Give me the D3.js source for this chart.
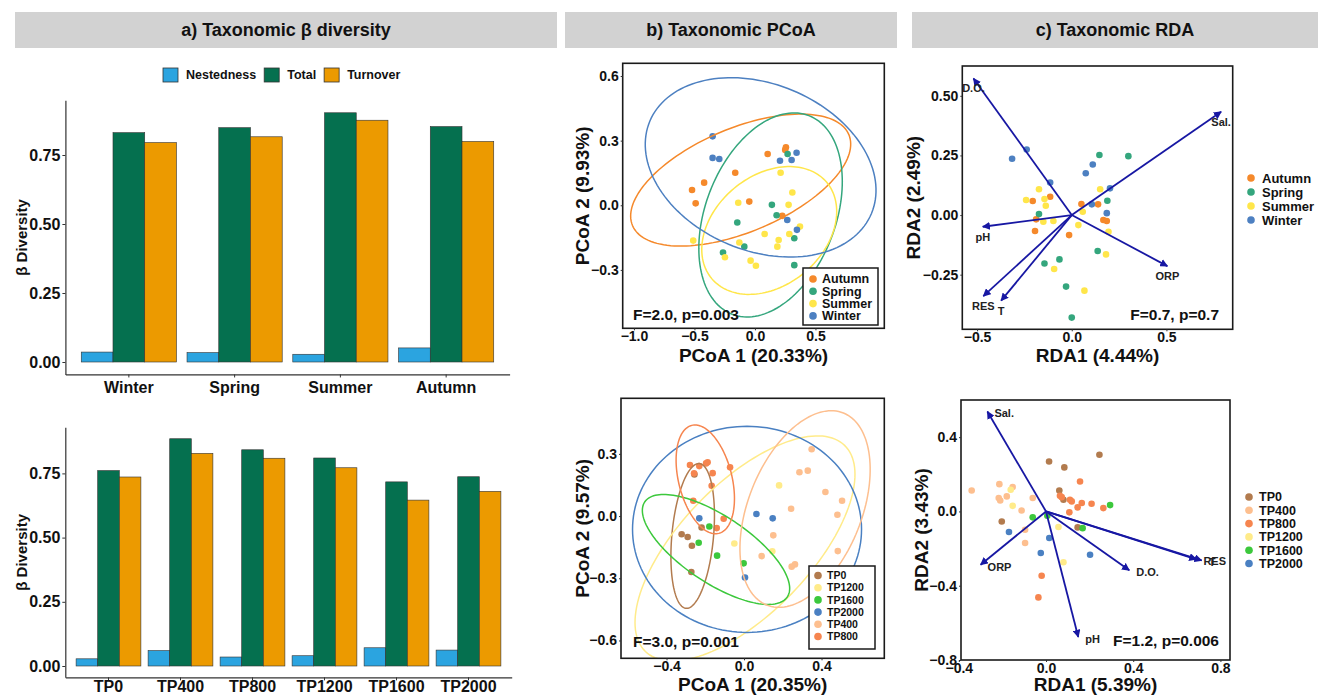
<!DOCTYPE html>
<html>
<head>
<meta charset="utf-8">
<script src="https://cdn.jsdelivr.net/npm/d3@7"></script>
<style>
  body { margin: 0; background: #fff; }
  svg { display: block; font-family: "Liberation Sans", Arial, sans-serif; }
</style>
</head>
<body>
<svg id="fig" width="1321" height="696"></svg>
<script>
// ---------- a) beta diversity bars ----------
const components = ["Nestedness", "Total", "Turnover"];
const componentColors = ["#2BA4E0", "#05704F", "#EC9A00"];

const seasons = ["Winter", "Spring", "Summer", "Autumn"];
const seasonNestedness = [0.036, 0.034, 0.028, 0.051];
const seasonTotal = [0.831, 0.849, 0.903, 0.853];
const seasonTurnover = [0.795, 0.816, 0.876, 0.799];

const sites = ["TP0", "TP400", "TP800", "TP1200", "TP1600", "TP2000"];
const siteNestedness = [0.028, 0.060, 0.035, 0.040, 0.071, 0.062];
const siteTotal = [0.761, 0.885, 0.842, 0.810, 0.717, 0.737];
const siteTurnover = [0.736, 0.828, 0.809, 0.772, 0.646, 0.680];

const betaTicks = [0, 0.25, 0.5, 0.75];

// ---------- groups and colours ----------
const seasonGroups = ["Autumn", "Spring", "Summer", "Winter"];
const seasonColors = { Autumn: "#F5892B", Spring: "#34A67D", Summer: "#FFE64A", Winter: "#4D80C1" };
const sitePcoaOrder = ["TP0", "TP1200", "TP1600", "TP2000", "TP400", "TP800"];
const siteRdaOrder = ["TP0", "TP400", "TP800", "TP1200", "TP1600", "TP2000"];
const siteColors = { TP0: "#B27B4E", TP400: "#FDBF8F", TP800: "#F6854F", TP1200: "#FFEB8A", TP1600: "#3CC83C", TP2000: "#4A80C2" };

// ---------- b) PCoA scores [PCoA1, PCoA2] ----------
const pcoaSeason = {
  Autumn: [[-0.52, 0.071], [-0.49, 0.009], [-0.42, 0.105], [-0.163, 0.151], [-0.047, 0.017], [0.105, 0.238], [0.25, 0.257], [0.256, 0.269], [0.226, -0.049]],
  Spring: [[0.27, 0.238], [-0.146, -0.08], [0.14, 0.002], [0.179, -0.046], [-0.264, -0.219], [-0.088, -0.192], [0.325, -0.153], [0.325, -0.278]],
  Summer: [[0.212, 0.151], [0.309, 0.059], [0.278, 0.002], [-0.138, 0.012], [-0.51, -0.164], [-0.129, -0.173], [0.08, -0.133], [0.196, -0.161], [0.185, -0.192], [0.284, -0.133], [0.372, -0.099], [-0.248, -0.241], [-0.036, -0.257], [0.008, -0.281]],
  Winter: [[-0.35, 0.32], [-0.35, 0.22], [-0.295, 0.215], [0.207, 0.207], [0.303, 0.21], [0.344, 0.244], [0.267, -0.068], [0.347, -0.114]]
};
// ellipse: centre x, centre y, first semi-axis (x, y), second semi-axis (x, y)
const pcoaSeasonEllipses = {
  Autumn: [-0.118, 0.117, 0.894, 0.211, 0.166, -0.222],
  Spring: [0.129, -0.045, 0.317, 0.461, 0.501, -0.1085],
  Summer: [0.118, -0.117, 0.475, 0.2235, 0.292, -0.195],
  Winter: [0.047, 0.176, 0.916, -0.214, -0.265, -0.357]
};

const pcoaSite = {
  TP0: [[-0.256, 0.201], [-0.322, -0.088], [-0.291, -0.101], [-0.269, -0.143], [-0.272, -0.27], [-0.219, -0.055]],
  TP1200: [[0.181, 0.148], [-0.05, -0.132], [0.146, -0.17]],
  TP1600: [[-0.179, -0.05], [-0.234, -0.129], [-0.139, -0.191], [-0.002, -0.228]],
  TP2000: [[-0.231, -0.011], [0.064, 0.01], [0.148, -0.011], [0.005, -0.296]],
  TP400: [[0.349, 0.322], [0.286, 0.211], [0.329, 0.219], [0.42, 0.116], [0.506, 0.074], [0.243, 0.035], [0.482, 0.006], [0.151, -0.093], [0.091, -0.193], [0.484, -0.169], [0.263, -0.233], [0.246, -0.244]],
  TP800: [[-0.279, 0.246], [-0.258, 0.206], [-0.231, 0.241], [-0.196, 0.254], [-0.188, 0.259], [-0.162, 0.207], [-0.167, 0.146], [-0.072, 0.235], [-0.262, 0.074], [-0.105, -0.013], [-0.141, -0.058]]
};
const pcoaSiteEllipses = {
  TP0: [-0.265, -0.096, 0.0344, 0.349, 0.107, -0.0093],
  TP1200: [0.005, -0.156, 0.514, 0.497, 0.241, -0.218],
  TP1600: [-0.1446, -0.161, 0.368, -0.229, -0.0955, -0.1338],
  TP2000: [0.0155, -0.064, 0.591, 0, 0, 0.497],
  TP400: [0.315, 0.034, 0.198, 0.463, 0.2716, -0.1015],
  TP800: [-0.2, 0.177, 0.0695, -0.2605, -0.1336, -0.0312]
};

// ---------- c) RDA site scores and biplot arrows ----------
const rdaSeason = {
  Autumn: [[-0.206, 0.059], [-0.114, 0.077], [-0.188, -0.018], [-0.194, -0.067], [0.051, 0.046], [0.139, 0.045], [-0.014, -0.084], [0.167, -0.021], [0.185, -0.025]],
  Spring: [[0.146, 0.252], [0.299, 0.247], [0.188, 0.06], [-0.173, 0.004], [0.137, -0.151], [-0.065, -0.186], [-0.144, -0.203], [-0.03, -0.3], [0, -0.43]],
  Summer: [[-0.173, 0.108], [-0.241, 0.063], [-0.144, 0.067], [-0.137, 0.039], [-0.15, -0.028], [-0.097, -0.025], [0.15, 0.108], [0.058, 0.014], [0.035, -0.042], [0.194, -0.07], [0.181, -0.165], [-0.093, -0.226], [0.067, -0.317]],
  Winter: [[-0.315, 0.236], [-0.238, 0.275], [-0.114, 0.136], [0.074, 0.175], [0.111, 0.212], [0.202, 0.112], [0.106, 0.045], [0.185, 0.008]]
};
const rdaSeasonArrows = [["D.O.", -0.519, 0.573], ["Sal.", 0.789, 0.433], ["pH", -0.47, -0.049], ["ORP", 0.505, -0.214], ["RES", -0.467, -0.34], ["T", -0.373, -0.359]];

const rdaSite = {
  TP0: [[0.245, 0.305], [0.014, 0.269], [0.084, 0.237], [0.061, 0.113], [0.08, 0.063], [-0.203, -0.054], [0.145, -0.086]],
  TP400: [[-0.341, 0.113], [-0.214, 0.147], [-0.217, 0.072], [-0.21, 0.059], [-0.18, 0.081], [-0.153, 0.131], [-0.112, 0.005], [-0.061, 0.072], [-0.096, -0.099], [-0.096, -0.17]],
  TP800: [[0.156, 0.161], [0.072, 0.077], [0.11, 0.063], [0.118, 0.054], [0.164, 0.045], [0.209, 0.041], [0.263, 0.018], [0.145, 0.022], [0.107, -0.005], [-0.02, -0.346], [-0.035, -0.463], [0.064, 0.084]],
  TP1200: [[-0.162, 0.117], [-0.153, 0.03], [0.057, -0.084], [0.08, -0.274]],
  TP1600: [[0.294, 0.034], [-0.061, -0.032], [0.006, -0.023], [0.168, -0.09]],
  TP2000: [[-0.17, -0.111], [0.015, -0.143], [-0.024, -0.224], [0.202, -0.233]]
};
const rdaSiteArrows = [["Sal.", -0.269, 0.538], ["ORP", -0.3, -0.287], ["pH", 0.148, -0.676], ["D.O.", 0.382, -0.317], ["RES", 0.69, -0.258], ["T", 0.714, -0.264]];

// ---------- drawing ----------
const FONT = '"Liberation Sans", Arial, sans-serif';
const INK = "#111";
const ARROW = "#1717A3";
const svg = d3.select("#fig");
const defs = svg.append("defs");
defs.append("marker")
    .attr("id", "arrowhead")
    .attr("viewBox", "0 0 10 10")
    .attr("refX", 9).attr("refY", 5)
    .attr("markerUnits", "userSpaceOnUse")
    .attr("markerWidth", 8).attr("markerHeight", 8)
    .attr("orient", "auto")
    .append("path").attr("d", "M0,0L10,5L0,10z").attr("fill", ARROW);

let clipCount = 0;

function header(x0, x1, label) {
    svg.append("rect").attr("x", x0).attr("y", 12).attr("width", x1 - x0).attr("height", 36).attr("fill", "#D2D2D2");
    svg.append("text").attr("x", (x0 + x1) / 2).attr("y", 30).attr("dy", "0.35em")
        .attr("text-anchor", "middle").attr("font-size", 18).attr("font-weight", "bold").attr("fill", INK)
        .text(label);
}

function styleAxis(g, size) {
    g.attr("font-family", FONT);
    g.selectAll("text").attr("font-size", size).attr("font-weight", "bold").attr("fill", INK);
    g.selectAll("line").attr("stroke", "#333");
    g.select(".domain").attr("stroke", "#333").attr("stroke-width", 1.2);
}

function barPanel(cats, series, x0, x1, zeroY, pxPerUnit, labelPad) {
    const yMax = d3.max(series.flat());
    const domain = [-0.05 * yMax, 1.05 * yMax];
    const y = d3.scaleLinear().domain(domain)
        .range([zeroY - domain[0] * pxPerUnit, zeroY - domain[1] * pxPerUnit]);
    const x = d3.scaleBand().domain(cats).range([x0, x1]).paddingInner(0.1).paddingOuter(0.15);
    const xs = d3.scaleBand().domain(components).range([0, x.bandwidth()]);
    const g = svg.append("g");

    components.forEach((comp, ci) => {
        g.selectAll(null).data(cats).join("rect")
            .attr("x", d => x(d) + xs(comp))
            .attr("y", (d, i) => y(series[ci][i]))
            .attr("width", xs.bandwidth())
            .attr("height", (d, i) => y(0) - y(series[ci][i]))
            .attr("fill", componentColors[ci])
            .attr("stroke", "#333").attr("stroke-width", 0.6);
    });

    const [yBot, yTop] = y.range();
    g.append("g").attr("transform", `translate(${x0},0)`)
        .call(d3.axisLeft(y).tickValues(betaTicks).tickFormat(d3.format(".2f")).tickSize(3).tickSizeOuter(0).tickPadding(2))
        .call(a => styleAxis(a, 16));
    g.append("g").attr("transform", `translate(0,${yBot})`)
        .call(d3.axisBottom(x).tickSize(3).tickSizeOuter(0).tickPadding(labelPad))
        .call(a => styleAxis(a, 16));

    g.append("text")
        .attr("transform", `translate(22,${(yBot + yTop) / 2}) rotate(-90)`)
        .attr("dy", "0.35em").attr("text-anchor", "middle")
        .attr("font-size", 15).attr("font-weight", "bold").attr("fill", INK)
        .text("β Diversity");
}

function ellipsePath(e, x, y) {
    const [cx, cy, ax, ay, bx, by] = e;
    const pts = d3.range(0, 2 * Math.PI, Math.PI / 72).map(t => [
        x(cx + ax * Math.cos(t) + bx * Math.sin(t)),
        y(cy + ay * Math.cos(t) + by * Math.sin(t))
    ]);
    return d3.line().curve(d3.curveLinearClosed)(pts);
}

function scatterPanel(c) {
    const [l, r, t, b] = c.box;
    const x = d3.scaleLinear().domain(c.xDomain).range([l, r]);
    const y = d3.scaleLinear().domain(c.yDomain).range([b, t]);
    const g = svg.append("g");
    const clipId = "clip" + (clipCount++);
    defs.append("clipPath").attr("id", clipId)
        .append("rect").attr("x", l).attr("y", t).attr("width", r - l).attr("height", b - t);
    const plot = g.append("g").attr("clip-path", `url(#${clipId})`);

    c.groups.forEach(gr => {
        plot.selectAll(null).data(c.points[gr]).join("circle")
            .attr("cx", d => x(d[0])).attr("cy", d => y(d[1]))
            .attr("r", 3.3).attr("fill", c.colors[gr]);
    });

    if (c.ellipses) {
        c.groups.forEach(gr => {
            plot.append("path").attr("d", ellipsePath(c.ellipses[gr], x, y))
                .attr("fill", "none").attr("stroke", c.colors[gr]).attr("stroke-width", 1.5);
        });
    }

    if (c.arrows) {
        g.selectAll(null).data(c.arrows).join("line")
            .attr("x1", x(0)).attr("y1", y(0))
            .attr("x2", d => x(d[1])).attr("y2", d => y(d[2]))
            .attr("stroke", ARROW).attr("stroke-width", 1.8)
            .attr("marker-end", "url(#arrowhead)");
        const lab = g.selectAll(null).data(c.arrows).join("text")
            .attr("font-size", 11).attr("font-weight", "bold").attr("fill", "#222")
            .attr("dy", "0.35em").text(d => d[0]);
        if (c.arrowLabels === "below") {
            lab.attr("x", d => x(d[1])).attr("y", d => y(d[2]) + 10).attr("text-anchor", "middle");
        } else {
            lab.attr("x", d => x(d[1]) + 7).attr("y", d => y(d[2]) + 2).attr("text-anchor", "start");
        }
    }

    g.append("rect").attr("x", l).attr("y", t).attr("width", r - l).attr("height", b - t)
        .attr("fill", "none").attr("stroke", "#1a1a1a").attr("stroke-width", 1.6);

    g.append("g").attr("transform", `translate(${l},0)`)
        .call(d3.axisLeft(y).tickValues(c.yTicks).tickFormat(d3.format(c.yFmt)).tickSize(2).tickSizeOuter(0).tickPadding(2))
        .call(a => { styleAxis(a, 14); a.select(".domain").remove(); });
    g.append("g").attr("transform", `translate(0,${b})`)
        .call(d3.axisBottom(x).tickValues(c.xTicks).tickFormat(d3.format(c.xFmt)).tickSize(2).tickSizeOuter(0).tickPadding(1))
        .call(a => { styleAxis(a, 14); a.select(".domain").remove(); });

    g.append("text").attr("x", (l + r) / 2).attr("y", c.xTitleY).attr("dy", "0.35em")
        .attr("text-anchor", "middle").attr("font-size", 19).attr("font-weight", "bold").attr("fill", INK)
        .text(c.xTitle);
    g.append("text").attr("transform", `translate(${c.yTitleX},${(t + b) / 2}) rotate(-90)`)
        .attr("dy", "0.35em").attr("text-anchor", "middle")
        .attr("font-size", 19).attr("font-weight", "bold").attr("fill", INK)
        .text(c.yTitle);

    g.append("text").attr("x", c.statPos[0]).attr("y", c.statPos[1]).attr("dy", "0.35em")
        .attr("text-anchor", c.statAnchor).attr("font-size", 15.5).attr("font-weight", "bold").attr("fill", INK)
        .text(c.stat);

    const L = c.legend;
    if (L.box) {
        g.append("rect").attr("x", L.box[0]).attr("y", L.box[1]).attr("width", L.box[2]).attr("height", L.box[3])
            .attr("fill", "#fff").attr("stroke", "#1a1a1a").attr("stroke-width", 1.5);
    }
    const item = g.selectAll(null).data(c.groups).join("g")
        .attr("transform", (d, i) => `translate(0,${L.y0 + i * L.dy})`);
    item.append("circle").attr("cx", L.px).attr("r", 3.8).attr("fill", d => c.colors[d]);
    item.append("text").attr("x", L.tx).attr("dy", "0.35em")
        .attr("font-size", L.size).attr("font-weight", "bold").attr("fill", INK).text(d => d);
}

// headers
header(15, 557, "a) Taxonomic β diversity");
header(565, 897, "b) Taxonomic PCoA");
header(912, 1318, "c) Taxonomic RDA");

// bar legend
let lx = 163;
components.forEach((comp, i) => {
    svg.append("rect").attr("x", lx).attr("y", 68).attr("width", 15).attr("height", 14)
        .attr("fill", componentColors[i]).attr("stroke", "#333").attr("stroke-width", 0.8);
    const t = svg.append("text").attr("x", lx + 23).attr("y", 75).attr("dy", "0.35em")
        .attr("font-size", 12.5).attr("font-weight", "bold").attr("fill", INK).text(comp);
    lx += 23 + t.node().getComputedTextLength() + 8;
});

barPanel(seasons, [seasonNestedness, seasonTotal, seasonTurnover], 65.4, 509.6, 362, 276, 4);
barPanel(sites, [siteNestedness, siteTotal, siteTurnover], 65.3, 511.7, 666, 256.8, 0);

scatterPanel({
    box: [622.7, 884.3, 63.3, 328.3], xDomain: [-1.093, 1.069], yDomain: [-0.571, 0.659],
    xTicks: [-1, -0.5, 0, 0.5], yTicks: [-0.3, 0, 0.3, 0.6], xFmt: ".1f", yFmt: ".1f",
    xTitle: "PCoA 1 (20.33%)", yTitle: "PCoA 2 (9.93%)", xTitleY: 355, yTitleX: 582,
    groups: seasonGroups, colors: seasonColors, points: pcoaSeason, ellipses: pcoaSeasonEllipses,
    stat: "F=2.0, p=0.003", statPos: [633, 315], statAnchor: "start",
    legend: { box: [803, 268, 75, 57], px: 813, tx: 822, y0: 279, dy: 12.3, size: 12.5 }
});

scatterPanel({
    box: [621, 884.3, 398.3, 658.3], xDomain: [-0.635, 0.724], yDomain: [-0.686, 0.568],
    xTicks: [-0.4, 0, 0.4], yTicks: [-0.6, -0.3, 0, 0.3], xFmt: ".1f", yFmt: ".1f",
    xTitle: "PCoA 1 (20.35%)", yTitle: "PCoA 2 (9.57%)", xTitleY: 684, yTitleX: 582,
    groups: sitePcoaOrder, colors: siteColors, points: pcoaSite, ellipses: pcoaSiteEllipses,
    stat: "F=3.0, p=0.001", statPos: [633, 642], statAnchor: "start",
    legend: { box: [809, 566, 66, 83], px: 818, tx: 827, y0: 575.5, dy: 12.2, size: 10.5 }
});

scatterPanel({
    box: [962.3, 1232.7, 66, 329.3], xDomain: [-0.578, 0.85], yDomain: [-0.479, 0.625],
    xTicks: [-0.5, 0, 0.5], yTicks: [-0.25, 0, 0.25, 0.5], xFmt: ".1f", yFmt: ".2f",
    xTitle: "RDA1 (4.44%)", yTitle: "RDA2 (2.49%)", xTitleY: 355, yTitleX: 913,
    groups: seasonGroups, colors: seasonColors, points: rdaSeason,
    arrows: rdaSeasonArrows, arrowLabels: "below",
    stat: "F=0.7, p=0.7", statPos: [1219, 315], statAnchor: "end",
    legend: { px: 1251, tx: 1262, y0: 178, dy: 14, size: 13 }
});

scatterPanel({
    box: [961, 1230, 400, 660], xDomain: [-0.39, 0.844], yDomain: [-0.8, 0.6],
    xTicks: [-0.4, 0, 0.4, 0.8], yTicks: [-0.8, -0.4, 0, 0.4], xFmt: ".1f", yFmt: ".1f",
    xTitle: "RDA1 (5.39%)", yTitle: "RDA2 (3.43%)", xTitleY: 684, yTitleX: 921,
    groups: siteRdaOrder, colors: siteColors, points: rdaSite,
    arrows: rdaSiteArrows, arrowLabels: "right",
    stat: "F=1.2, p=0.006", statPos: [1219, 641], statAnchor: "end",
    legend: { px: 1249, tx: 1259, y0: 497, dy: 13.3, size: 12.5 }
});
</script>
</body>
</html>
